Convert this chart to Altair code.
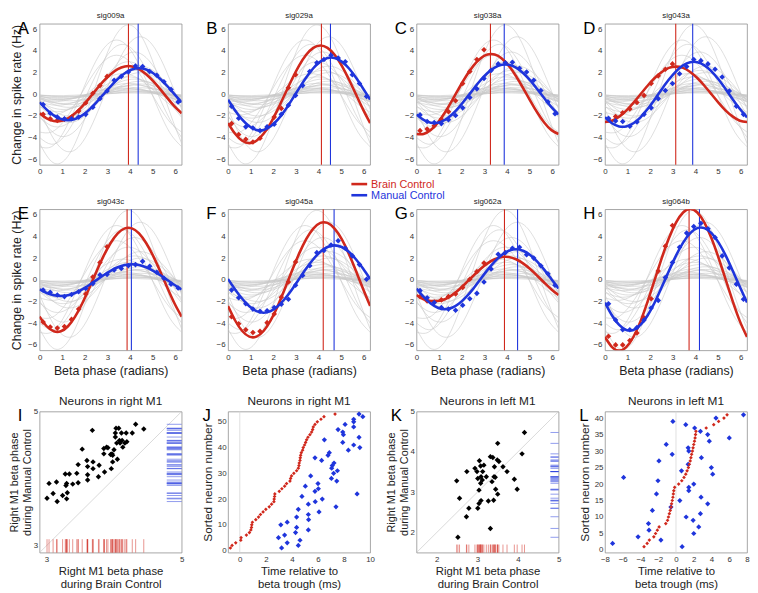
import altair as alt
import pandas as pd

FONT = "Liberation Sans"
RED = "#d0281c"
BLUE = "#1f35dc"
GRAY_LINE = "#c8c8c8"
W, H = 144, 143

# ---------------- phase-tuning panels (A-H) ----------------
CURVE_PHASE = [0.000, 0.314, 0.628, 0.942, 1.257, 1.571, 1.885, 2.199, 2.513, 2.827, 3.142,
               3.456, 3.770, 4.084, 4.398, 4.712, 5.027, 5.341, 5.655, 5.969, 6.283]
DOT_PHASE = [0.157, 0.471, 0.785, 1.100, 1.414, 1.728, 2.042, 2.356, 2.670, 2.985,
             3.299, 3.613, 3.927, 4.241, 4.555, 4.869, 5.184, 5.498, 5.812, 6.126]
GRAY_PHASE = [0.000, 0.524, 1.047, 1.571, 2.094, 2.618, 3.142, 3.665, 4.189, 4.712, 5.236, 5.760, 6.283]

GRAY_CURVES = [
    [-4.52, -6.18, -6.18, -4.52, -1.66, 1.66, 4.52, 6.18, 6.18, 4.52, 1.66, -1.66, -4.52],
    [-1.37, -3.75, -5.12, -5.12, -3.75, -1.37, 1.37, 3.75, 5.12, 5.12, 3.75, 1.37, -1.37],
    [-3.98, -4.60, -3.98, -2.30, 0.00, 2.30, 3.98, 4.60, 3.98, 2.30, 0.00, -2.30, -3.98],
    [-1.95, -3.38, -3.90, -3.38, -1.95, 0.00, 1.95, 3.38, 3.90, 3.38, 1.95, 0.00, -1.95],
    [-3.48, -3.48, -2.55, -0.93, 0.93, 2.55, 3.48, 3.48, 2.55, 0.93, -0.93, -2.55, -3.48],
    [-2.12, -2.90, -2.90, -2.12, -0.78, 0.78, 2.12, 2.90, 2.90, 2.12, 0.78, -0.78, -2.12],
    [-0.67, -1.84, -2.51, -2.51, -1.84, -0.67, 0.67, 1.84, 2.51, 2.51, 1.84, 0.67, -0.67],
    [-1.10, -1.91, -2.20, -1.91, -1.10, 0.00, 1.10, 1.91, 2.20, 1.91, 1.10, 0.00, -1.10],
    [-1.65, -1.90, -1.65, -0.95, 0.00, 0.95, 1.65, 1.90, 1.65, 0.95, 0.00, -0.95, -1.65],
    [-1.13, -1.55, -1.55, -1.13, -0.41, 0.41, 1.13, 1.55, 1.55, 1.13, 0.41, -0.41, -1.13],
    [-0.70, -1.21, -1.40, -1.21, -0.70, 0.00, 0.70, 1.21, 1.40, 1.21, 0.70, 0.00, -0.70],
    [-0.31, -0.85, -1.16, -1.16, -0.85, -0.31, 0.31, 0.85, 1.16, 1.16, 0.85, 0.31, -0.31],
    [-0.71, -0.97, -0.97, -0.71, -0.26, 0.26, 0.71, 0.97, 0.97, 0.71, 0.26, -0.26, -0.71],
    [-0.43, -0.74, -0.85, -0.74, -0.43, 0.00, 0.43, 0.74, 0.85, 0.74, 0.43, 0.00, -0.43],
    [-0.61, -0.70, -0.61, -0.35, 0.00, 0.35, 0.61, 0.70, 0.61, 0.35, 0.00, -0.35, -0.61],
    [-0.16, -0.42, -0.58, -0.58, -0.42, -0.16, 0.16, 0.42, 0.58, 0.58, 0.42, 0.16, -0.16],
    [-0.35, -0.48, -0.48, -0.35, -0.13, 0.13, 0.35, 0.48, 0.48, 0.35, 0.13, -0.13, -0.35],
    [-0.20, -0.35, -0.40, -0.35, -0.20, 0.00, 0.20, 0.35, 0.40, 0.35, 0.20, 0.00, -0.20],
    [-0.21, -0.29, -0.29, -0.21, -0.08, 0.08, 0.21, 0.29, 0.29, 0.21, 0.08, -0.08, -0.21],
    [-0.10, -0.17, -0.20, -0.17, -0.10, 0.00, 0.10, 0.17, 0.20, 0.17, 0.10, 0.00, -0.10],
    [-0.08, -0.12, -0.12, -0.08, -0.03, 0.03, 0.08, 0.12, 0.12, 0.08, 0.03, -0.03, -0.08],
    [-0.52, -1.41, -1.93, -1.93, -1.41, -0.52, 0.52, 1.41, 1.93, 1.93, 1.41, 0.52, -0.52],
    [-0.25, -0.67, -0.92, -0.92, -0.67, -0.25, 0.25, 0.67, 0.92, 0.92, 0.67, 0.25, -0.25],
    [-0.48, -0.55, -0.48, -0.28, 0.00, 0.28, 0.48, 0.55, 0.48, 0.28, 0.00, -0.28, -0.48],
    [-0.06, -0.18, -0.24, -0.24, -0.18, -0.06, 0.06, 0.18, 0.24, 0.24, 0.18, 0.06, -0.06],
    [-4.83, -4.83, -3.54, -1.30, 1.30, 3.54, 4.83, 4.83, 3.54, 1.30, -1.30, -3.54, -4.83],
]

PHASE_PANELS = ["A", "B", "C", "D", "E", "F", "G", "H"]
PHASE_TITLES = ["sig009a", "sig029a", "sig038a", "sig043a", "sig043c", "sig045a", "sig062a", "sig064b"]

RED_FIT = [
    [-1.75, -2.22, -2.47, -2.47, -2.22, -1.75, -1.11, -0.35, 0.45, 1.21, 1.85, 2.32, 2.57, 2.57, 2.32, 1.85, 1.21, 0.45, -0.35, -1.11, -1.75],
    [-2.65, -3.64, -4.28, -4.50, -4.28, -3.64, -2.65, -1.39, 0.00, 1.39, 2.65, 3.64, 4.28, 4.50, 4.28, 3.64, 2.65, 1.39, 0.00, -1.39, -2.65],
    [-3.66, -3.66, -3.30, -2.62, -1.68, -0.58, 0.58, 1.68, 2.62, 3.30, 3.66, 3.66, 3.30, 2.62, 1.68, 0.58, -0.58, -1.68, -2.62, -3.30, -3.66],
    [-2.55, -2.43, -2.06, -1.50, -0.79, 0.00, 0.79, 1.50, 2.06, 2.43, 2.55, 2.43, 2.06, 1.50, 0.79, 0.00, -0.79, -1.50, -2.06, -2.43, -2.55],
    [-3.39, -4.28, -4.74, -4.74, -4.28, -3.39, -2.18, -0.75, 0.75, 2.18, 3.39, 4.28, 4.74, 4.74, 4.28, 3.39, 2.18, 0.75, -0.75, -2.18, -3.39],
    [-2.41, -3.75, -4.72, -5.24, -5.24, -4.72, -3.75, -2.41, -0.83, 0.83, 2.41, 3.75, 4.72, 5.24, 5.24, 4.72, 3.75, 2.41, 0.83, -0.83, -2.41],
    [-1.41, -1.79, -1.95, -1.95, -1.79, -1.41, -0.89, -0.27, 0.37, 0.99, 1.51, 1.89, 2.10, 2.10, 1.89, 1.51, 0.99, 0.37, -0.27, -0.89, -1.41],
    [-5.27, -6.20, -6.52, -6.20, -5.27, -3.83, -2.01, 0.00, 2.01, 3.83, 5.27, 6.20, 6.52, 6.20, 5.27, 3.83, 2.01, 0.00, -2.01, -3.83, -5.27],
]
BLUE_FIT = [
    [-0.74, -1.41, -1.94, -2.28, -2.40, -2.28, -1.94, -1.41, -0.74, 0.00, 0.74, 1.41, 1.94, 2.28, 2.40, 2.28, 1.94, 1.41, 0.74, 0.00, -0.74],
    [-0.49, -1.49, -2.34, -2.95, -3.28, -3.28, -2.95, -2.34, -1.49, -0.49, 0.55, 1.55, 2.40, 3.01, 3.34, 3.34, 3.01, 2.40, 1.55, 0.55, -0.49],
    [-1.86, -2.36, -2.62, -2.62, -2.36, -1.86, -1.18, -0.37, 0.47, 1.28, 1.96, 2.46, 2.72, 2.72, 2.46, 1.96, 1.28, 0.47, -0.37, -1.18, -1.86],
    [-2.12, -2.67, -2.96, -2.96, -2.67, -2.12, -1.36, -0.47, 0.47, 1.36, 2.12, 2.67, 2.96, 2.96, 2.67, 2.12, 1.36, 0.47, -0.47, -1.36, -2.12],
    [-0.89, -1.22, -1.43, -1.50, -1.43, -1.22, -0.89, -0.48, -0.03, 0.42, 0.83, 1.16, 1.37, 1.44, 1.37, 1.16, 0.83, 0.42, -0.03, -0.48, -0.89],
    [0.07, -0.89, -1.75, -2.44, -2.88, -3.03, -2.88, -2.44, -1.75, -0.89, 0.07, 1.03, 1.89, 2.58, 3.02, 3.17, 3.02, 2.58, 1.89, 1.03, 0.07],
    [-0.81, -1.58, -2.19, -2.58, -2.72, -2.58, -2.19, -1.58, -0.81, 0.05, 0.91, 1.68, 2.29, 2.68, 2.82, 2.68, 2.29, 1.68, 0.91, 0.05, -0.81],
    [-2.09, -3.29, -4.16, -4.62, -4.62, -4.16, -3.29, -2.09, -0.67, 0.81, 2.23, 3.43, 4.30, 4.76, 4.76, 4.30, 3.43, 2.23, 0.81, -0.67, -2.09],
]
RED_DOTS = [
    [-1.85, -2.25, -2.40, -2.30, -2.10, -1.55, -0.80, 0.10, 0.80, 1.65],
    [-2.70, -3.70, -4.15, -4.40, -4.05, -3.10, -2.10, -1.30, 0.60, 1.80],
    [-3.35, -3.20, -2.90, -2.30, -1.60, -0.60, 1.00, 2.10, 3.20, 4.10],
    [-2.35, -2.05, -1.70, -1.35, -0.75, -0.10, 1.00, 1.70, 2.30, 2.80],
    [-3.90, -4.35, -4.45, -4.30, -3.65, -2.70, -1.30, 0.25, 1.60, 3.05],
    [-3.40, -4.05, -4.60, -4.85, -4.75, -3.95, -3.15, -1.60, -0.20, 1.65],
    [-1.55, -1.95, -2.05, -1.85, -1.55, -1.30, -0.70, 0.05, 0.75, 1.55],
    [-5.20, -6.00, -6.00, -5.60, -4.90, -3.50, -1.75, 0.80, 3.10, 5.00],
]
BLUE_DOTS = [
    [-0.95, -1.75, -2.10, -2.25, -2.25, -2.10, -1.85, -1.20, -0.40, 0.30, 1.30, 1.65, 2.05, 2.60, 2.55, 2.10, 1.75, 1.15, 0.45, -0.70],
    [-1.10, -2.20, -3.00, -3.10, -3.35, -3.00, -2.75, -1.85, -1.00, -0.10, 0.80, 2.10, 2.90, 3.20, 3.60, 3.35, 3.00, 1.80, 1.00, -0.20],
    [-1.90, -2.50, -2.60, -2.70, -2.35, -1.95, -1.25, -0.30, 0.50, 1.45, 2.20, 2.80, 2.90, 2.95, 2.40, 2.05, 1.30, 0.35, -0.70, -1.80],
    [-2.20, -2.45, -2.50, -2.95, -2.55, -1.85, -1.25, -0.40, 0.35, 1.00, 1.90, 2.55, 3.20, 3.10, 2.80, 2.30, 1.60, 0.30, -1.10, -1.85],
    [-0.95, -1.15, -1.40, -1.55, -1.35, -1.10, -0.80, -0.35, 0.45, 0.50, 0.90, 1.05, 1.30, 1.40, 1.70, 1.25, 0.70, 0.15, -0.40, -0.75],
    [-0.95, -1.65, -2.20, -2.70, -2.90, -2.85, -2.55, -2.25, -1.80, -0.50, 0.40, 1.30, 2.50, 2.70, 3.20, 3.60, 2.90, 2.20, 1.40, 0.05],
    [-1.00, -1.65, -2.10, -2.55, -2.70, -2.80, -2.35, -1.75, -1.25, -0.20, 1.00, 2.35, 2.50, 2.90, 3.00, 2.30, 2.00, 1.30, 0.55, -0.50],
    [-2.20, -3.70, -4.60, -4.60, -4.40, -3.70, -2.60, -1.90, 0.20, 1.60, 3.00, 4.30, 4.90, 5.20, 4.70, 3.90, 2.20, 1.10, -0.40, -1.80],
]
RED_PEAK = [3.93, 4.13, 3.27, 3.13, 3.87, 4.21, 3.89, 3.72]
BLUE_PEAK = [4.36, 4.53, 3.88, 3.88, 4.06, 4.69, 4.47, 4.18]

LEGEND_LABELS = ["Brain Control", "Manual Control"]

# ---------------- population panels (I-L) ----------------
I_BRAIN = [3.01, 3.04, 3.10, 3.15, 3.16, 3.24, 3.28, 3.29, 3.30, 3.30, 3.31, 3.34, 3.39, 3.45, 3.47, 3.47, 3.53, 3.60,
           3.61, 3.61, 3.61, 3.68, 3.69, 3.69, 3.78, 3.77, 3.85, 3.85, 3.86, 3.89, 3.91, 3.95, 3.96, 3.97, 3.98, 3.98,
           4.00, 4.02, 4.02, 4.03, 4.04, 4.05, 4.07, 4.08, 4.09, 4.11, 4.12, 4.13, 4.16, 4.18, 4.19, 4.27, 4.32, 4.44]
I_MANUAL = [3.71, 3.93, 3.78, 3.95, 3.66, 3.75, 4.07, 3.90, 3.93, 3.70, 3.79, 4.07, 3.92, 4.08, 3.94, 4.21, 4.44, 4.27,
            4.18, 4.06, 3.98, 4.72, 4.25, 4.15, 4.20, 4.03, 4.45, 4.37, 4.10, 4.47, 4.46, 4.36, 4.15, 4.37, 4.35, 4.25,
            4.43, 4.68, 4.62, 4.75, 4.53, 4.29, 4.75, 4.57, 4.53, 4.68, 4.57, 4.47, 4.53, 4.68, 4.55, 4.68, 4.81, 4.74]

J_RED_TIME = [-0.72, -0.59, -0.31, 0.08, 0.10, 0.51, 0.74, 0.85, 0.90, 0.92, 0.97, 1.23, 1.44, 1.59, 1.79, 2.00,
              2.26, 2.44, 2.62, 2.64, 2.67, 2.69, 3.03, 3.23, 3.44, 3.59, 3.85, 3.90, 3.97, 4.15, 4.36, 4.49, 4.54,
              4.56, 4.62, 4.64, 4.67, 4.72, 4.82, 4.87, 4.97, 5.05, 5.13, 5.23, 5.38, 5.51, 5.59, 5.64, 5.77, 5.95,
              6.23, 6.46, 7.31]
J_RED_NUM = list(range(1, 54))
J_BLUE_TIME = [9.15, 9.44, 8.74, 8.74, 8.08, 8.74, 7.54, 7.90, 7.95, 9.15, 6.49, 7.90, 8.74, 9.21, 8.33, 6.87, 6.77,
               5.77, 6.28, 7.23, 7.10, 7.05, 7.49, 7.20, 5.44, 7.03, 7.44, 6.00, 5.03, 6.03, 5.77, 9.00, 4.77, 6.33,
               5.79, 5.26, 7.38, 4.49, 6.08, 5.26, 4.36, 5.28, 3.64, 3.15, 4.36, 5.26, 4.28, 3.44, 2.97, 4.62, 3.64,
               4.49, 3.21]
J_BLUE_NUM = [53, 52, 51, 50, 49, 48, 47, 46, 45, 44, 43, 42, 41, 40, 39, 38, 37, 36, 35, 34, 33, 32, 31, 30, 29, 28,
              27, 26, 25, 24, 23, 22, 21, 20, 19, 18, 17, 16, 15, 14, 13, 12, 11, 10, 9, 8, 7, 6, 5, 4, 3, 2, 1]

K_BRAIN = [2.49, 2.56, 2.52, 2.74, 2.73, 2.79, 2.94, 2.99, 3.01, 3.05, 3.04, 3.01, 3.04, 3.08, 3.09, 3.13, 3.09, 3.08,
           3.16, 3.22, 3.12, 3.27, 3.32, 3.32, 3.38, 3.36, 3.41, 3.42, 3.40, 3.44, 3.45, 3.49, 3.50, 3.53, 3.50, 3.63,
           3.73, 3.91, 3.98, 4.10, 4.16]
K_MANUAL = [3.28, 2.85, 1.88, 3.51, 2.39, 2.60, 3.59, 3.51, 3.34, 3.78, 3.05, 2.60, 2.72, 3.65, 3.38, 3.51, 2.79, 3.22,
            3.67, 3.38, 3.30, 2.78, 3.88, 2.10, 3.86, 3.26, 3.38, 3.63, 2.80, 3.37, 3.07, 3.80, 4.21, 3.76, 2.95, 3.63,
            3.51, 3.32, 3.07, 3.95, 4.48]

L_RED_TIME = [-3.60, -3.25, -3.00, -2.50, -2.30, -2.10, -1.90, -1.15, -0.95, -0.85, -0.75, -0.65, -0.55, -0.50, -0.42,
              -0.35, -0.30, -0.25, -0.15, 0.30, 0.65, 0.90, 1.10, 1.25, 1.40, 1.50, 1.60, 1.68, 1.76, 1.85, 1.92, 2.00,
              2.08, 2.15, 2.20, 2.25, 3.40, 4.25, 4.80, 5.40, 5.75]
L_RED_NUM = list(range(1, 42))
L_BLUE_TIME = [7.60, 4.50, -0.35, 1.10, 2.10, 2.75, 3.57, 6.00, 3.75, -1.10, 1.37, 1.44, -0.43, 2.86, -1.92, 1.37, 3.98,
               0.62, 4.13, -5.90, -2.03, 2.00, 1.44, 1.44, -2.20, 2.82, 0.43, 3.57, -0.57, -2.66, 2.75, 1.14, 1.93,
               -3.10, 2.56, -3.04, 2.00, -4.27, -1.70, -7.14, 0.69]
L_BLUE_NUM = [41, 40, 39, 38, 37, 36, 35, 34, 33, 32, 31, 30, 29, 28, 27, 26, 25, 24, 23, 22, 21, 20, 19, 18, 17, 16,
              15, 14, 13, 12, 11, 10, 9, 8, 7, 6, 5, 4, 3, 2, 1]

BOTTOM_PANELS = ["I", "J", "K", "L"]
BOTTOM_TITLES = ["Neurons in right M1", "Neurons in right M1", "Neurons in left M1", "Neurons in left M1"]

gray_df = pd.DataFrame([{"curve": k, "phase": p, "value": v}
                        for k, c in enumerate(GRAY_CURVES) for p, v in zip(GRAY_PHASE, c)])


def label_layer(letter, dx):
    return alt.Chart(pd.DataFrame({"t": [letter]})).mark_text(
        font=FONT, fontSize=17, align="left", baseline="top", color="black"
    ).encode(x=alt.value(dx), y=alt.value(-3), text="t:N")


def title_layer(text, size, dy):
    return alt.Chart(pd.DataFrame({"t": [text]})).mark_text(
        font=FONT, fontSize=size, align="center", baseline="middle", color="#222"
    ).encode(x=alt.value(W / 2), y=alt.value(dy), text="t:N")


def phase_panel(i):
    bottom = i >= 4
    left = i % 4 == 0
    xs = alt.Scale(domain=[0, 6.2832], nice=False, zero=False)
    ys = alt.Scale(domain=[-6.5, 6.5], nice=False, zero=False)
    xa = alt.Axis(values=[0, 1, 2, 3, 4, 5, 6], title="Beta phase (radians)" if bottom else None,
                  titleFontSize=12.5, titlePadding=3)
    ya = alt.Axis(values=[-6, -4, -2, 0, 2, 4, 6], title="Change in spike rate (Hz)" if left else None,
                  titleFontSize=12.5, titlePadding=4)
    X = alt.X("phase:Q", scale=xs, axis=xa)
    Y = alt.Y("value:Q", scale=ys, axis=ya)

    gray = alt.Chart(gray_df).mark_line(color=GRAY_LINE, strokeWidth=0.6, interpolate="natural",
                                        clip=True).encode(X, Y, detail="curve:N")
    rvl = alt.Chart(pd.DataFrame({"phase": [RED_PEAK[i]]})).mark_rule(color=RED, strokeWidth=1.1).encode(X)
    bvl = alt.Chart(pd.DataFrame({"phase": [BLUE_PEAK[i]]})).mark_rule(color=BLUE, strokeWidth=1.1).encode(X)
    rfit = alt.Chart(pd.DataFrame({"phase": CURVE_PHASE, "value": RED_FIT[i]})).mark_line(
        color=RED, strokeWidth=2.6, interpolate="natural", clip=True).encode(X, Y)
    bfit = alt.Chart(pd.DataFrame({"phase": CURVE_PHASE, "value": BLUE_FIT[i]})).mark_line(
        color=BLUE, strokeWidth=2.6, interpolate="natural", clip=True).encode(X, Y)
    rdot = alt.Chart(pd.DataFrame({"phase": DOT_PHASE[:10], "value": RED_DOTS[i]})).mark_point(
        shape="diamond", filled=True, size=32, color=RED, opacity=1, clip=True).encode(X, Y)
    bdot = alt.Chart(pd.DataFrame({"phase": DOT_PHASE, "value": BLUE_DOTS[i]})).mark_point(
        shape="diamond", filled=True, size=32, color=BLUE, opacity=1, clip=True).encode(X, Y)
    layers = [gray, rvl, bvl, rfit, rdot, bfit, bdot, label_layer(PHASE_PANELS[i], -22),
              title_layer(PHASE_TITLES[i], 8, -7.5)]
    if i == 6:
        for k, col in enumerate([RED, BLUE]):
            ly = -25.5 + 11.3 * k
            one = pd.DataFrame({"label": [LEGEND_LABELS[k]]})
            layers.append(alt.Chart(one).mark_rule(color=col, strokeWidth=2.6).encode(
                x=alt.value(-66), x2=alt.value(-50), y=alt.value(ly)))
            layers.append(alt.Chart(one).mark_text(color=col, font=FONT, fontSize=11, align="left",
                                                   baseline="middle").encode(
                x=alt.value(-46), y=alt.value(ly + 0.5), text="label:N"))
    return alt.layer(*layers).properties(width=W, height=H)


XT = dict(titleFontSize=11.5, titleLineHeight=13.5, titlePadding=2, labelPadding=3)
YT2 = dict(titleFontSize=11, titleLineHeight=12.5, titlePadding=1, labelPadding=2)
YT1 = dict(titleFontSize=12, titlePadding=3, labelPadding=2)


def phase_scatter(idx, bx, my, dom, ticks, rug_top, rug_left):
    xs = alt.Scale(domain=dom, nice=False, zero=False)
    ys = alt.Scale(domain=dom, nice=False, zero=False)
    xa = alt.Axis(values=ticks, format="d", title=["Right M1 beta phase", "during Brain Control"], **XT)
    ya = alt.Axis(values=ticks, format="d", title=["Right M1 beta phase", "during Manual Control"], **YT2)
    X = alt.X("b:Q", scale=xs, axis=xa)
    Y = alt.Y("m:Q", scale=ys, axis=ya)
    df = pd.DataFrame({"b": bx, "m": my})
    diag = alt.Chart(pd.DataFrame({"b": dom, "m": dom})).mark_line(
        color="#d0d0d0", strokeWidth=0.8, clip=True).encode(X, Y)
    rrug = alt.Chart(df).mark_rule(color=RED, strokeWidth=0.9, opacity=0.55).encode(
        x=X, y=alt.YDatum(dom[0], scale=ys, axis=ya), y2=alt.Y2Datum(rug_top))
    brug = alt.Chart(df).mark_rule(color=BLUE, strokeWidth=0.9, opacity=0.55).encode(
        y=Y, x=alt.XDatum(rug_left, scale=xs, axis=xa), x2=alt.X2Datum(dom[1]))
    pts = alt.Chart(df).mark_point(shape="diamond", filled=True, size=30, color="black", opacity=1).encode(X, Y)
    return alt.layer(diag, rrug, brug, pts, label_layer(BOTTOM_PANELS[idx], -22 if idx == 0 else -26),
                     title_layer(BOTTOM_TITLES[idx], 12, -11)).properties(width=W, height=H)


def time_panel(idx, rt, rn, bt, bn, xdom, xticks, ydom, yticks):
    xs = alt.Scale(domain=xdom, nice=False, zero=False)
    ys = alt.Scale(domain=ydom, nice=False, zero=False)
    xa = alt.Axis(values=xticks, title=["Time relative to", "beta trough (ms)"], **XT)
    ya = alt.Axis(values=yticks, title="Sorted neuron number", **YT1)
    X = alt.X("t:Q", scale=xs, axis=xa)
    Y = alt.Y("n:Q", scale=ys, axis=ya)
    zero = alt.Chart(pd.DataFrame({"t": [0]})).mark_rule(color="#d8d8d8", strokeWidth=0.8).encode(X)
    red = alt.Chart(pd.DataFrame({"t": rt, "n": rn})).mark_point(
        shape="diamond", filled=True, size=14, color=RED, opacity=1).encode(X, Y)
    blue = alt.Chart(pd.DataFrame({"t": bt, "n": bn})).mark_point(
        shape="diamond", filled=True, size=28, color=BLUE, opacity=1).encode(X, Y)
    return alt.layer(zero, blue, red, label_layer(BOTTOM_PANELS[idx], -26),
                     title_layer(BOTTOM_TITLES[idx], 12, -11)).properties(width=W, height=H)


row1 = alt.hconcat(*[phase_panel(i) for i in range(4)], spacing=47, bounds="flush")
row2 = alt.hconcat(*[phase_panel(i) for i in range(4, 8)], spacing=47, bounds="flush")
row3 = alt.hconcat(
    phase_scatter(0, I_BRAIN, I_MANUAL, [2.9, 5.0], [3, 4, 5], 3.1, 4.78),
    time_panel(1, J_RED_TIME, J_RED_NUM, J_BLUE_TIME, J_BLUE_NUM, [-0.9, 10], [0, 2, 4, 6, 8, 10],
               [-0.8, 54], [0, 10, 20, 30, 40, 50]),
    phase_scatter(2, K_BRAIN, K_MANUAL, [1.5, 5.0], [2, 3, 4, 5], 1.7, 4.8),
    time_panel(3, L_RED_TIME, L_RED_NUM, L_BLUE_TIME, L_BLUE_NUM, [-8, 8], [-8, -6, -4, -2, 0, 2, 4, 6, 8],
               [-0.8, 42], [0, 5, 10, 15, 20, 25, 30, 35, 40]),
    spacing=47, bounds="flush")

top = alt.vconcat(row1, row2, spacing=1)
chart = alt.vconcat(top, row3, spacing=17).properties(
    padding={"left": 0, "top": 0, "right": 0, "bottom": 0}
).configure_axis(
    labelFont=FONT, titleFont=FONT, labelFontSize=8, labelColor="#333", titleColor="#222",
    titleFontWeight="normal", domain=False, ticks=False, grid=False, labelPadding=3,
    labelFlush=False, labelOverlap=False
).configure_view(stroke="#8f8f8f", strokeWidth=0.8)

chart.save("out.html", embed_options={"renderer": "svg", "actions": False})
